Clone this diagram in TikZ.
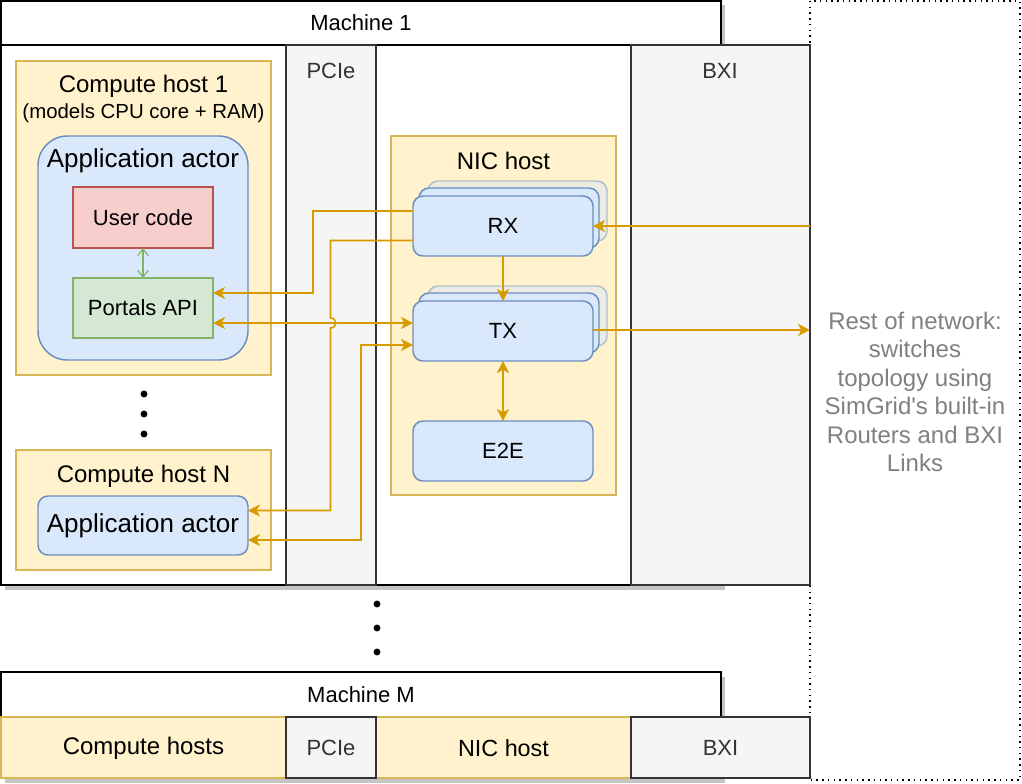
\documentclass[tikz,border=0pt]{standalone}
\usepackage{fontspec}
\setmainfont{Liberation Sans}
\usetikzlibrary{arrows.meta,calc}
\definecolor{yfill}{HTML}{FFF2CC}
\definecolor{ystroke}{HTML}{D6B656}
\definecolor{bfill}{HTML}{DAE8FC}
\definecolor{bstroke}{HTML}{6C8EBF}
\definecolor{rfill}{HTML}{F8CECC}
\definecolor{rstroke}{HTML}{B85450}
\definecolor{gfill}{HTML}{D5E8D4}
\definecolor{gstroke}{HTML}{82B366}
\definecolor{lanefill}{HTML}{F5F5F5}
\definecolor{lanestroke}{HTML}{333333}
\definecolor{conncol}{HTML}{D79B00}
\definecolor{shadowcol}{HTML}{C4C4C4}
\definecolor{restcol}{HTML}{808080}
\newcommand\boxat[7]{\node[#2,anchor=north west,outer sep=0pt,minimum width={(#5-(#3))*0.75pt},minimum height={(#6-(#4))*0.75pt}] (#1) at (#3,#4) {#7};}
\begin{document}
\begin{tikzpicture}[x=0.75pt,y=-0.75pt,
  tA/.style={font=\fontsize{16.5}{19.8}\selectfont},
  tB/.style={font=\fontsize{18}{21.4}\selectfont},
  tC/.style={font=\fontsize{15.3}{18}\selectfont},
  tD/.style={font=\fontsize{19.5}{23}\selectfont},
  frame/.style={draw=black,fill=white,line width=1.2pt,tA},
  lane/.style={draw=lanestroke,fill=lanefill,line width=1.2pt,text=lanestroke,tA},
  ybox/.style={draw=ystroke,fill=yfill,line width=1.1pt},
  bluebox/.style={draw=bstroke,fill=bfill,line width=1.1pt,rounded corners=7.5pt,tA},
  stackback/.style={bluebox,opacity=0.5},
  bluebig/.style={draw=bstroke,fill=bfill,line width=1.1pt,rounded corners=22pt},
  redbox/.style={draw=rstroke,fill=rfill,line width=1.1pt,tA},
  greenbox/.style={draw=gstroke,fill=gfill,line width=1.1pt,tA},
  conn/.style={draw=conncol,line width=1.2pt},
  dotmark/.style={circle,fill=black,inner sep=0pt,minimum size=5.2pt},
  >={Stealth[length=9pt,width=9pt,inset=2.5pt]}]
\useasboundingbox (0,0) rectangle (1022,783);
% shadows
\fill[shadowcol] (5,5) rectangle (725,590);
\fill[shadowcol] (5,677) rectangle (725,783);
% rest of network box
\draw[line width=1.1pt,dash pattern=on 1.1pt off 3.2pt] (810,1) rectangle (1020,780);
\node[tB,text=restcol,align=center] (rest) at (915,392) {Rest of network:\\switches\\topology using\\SimGrid\textquotesingle s built-in\\Routers and BXI\\Links};
% Machine 1
\boxat{m1}{frame}{1}{1}{721}{45}{Machine 1}
\boxat{m1body}{frame}{1}{45}{721}{585}{}
\boxat{pcie}{lane}{286}{45}{376}{585}{}
\boxat{bxi}{lane}{631}{45}{810}{585}{}
\node[tA,text=lanestroke] (pcielbl) at (331,71) {PCIe};
\node[tA,text=lanestroke] (bxilbl) at (720,71) {BXI};
% compute host 1
\boxat{ch1}{ybox}{16}{61}{271}{375}{}
\node[tB] (ch1lbl) at (143.5,86) {Compute host 1};
\node[tC] (ch1sub) at (143.5,113) {(models CPU core + RAM)};
\boxat{act1}{bluebig}{38}{136}{248}{360}{}
\node[tD] (act1lbl) at (143,161) {Application actor};
\boxat{user}{redbox}{73}{187}{213}{248}{User code}
\boxat{portals}{greenbox}{73}{278}{213}{338}{Portals API}
\draw[draw=gstroke,line width=0.9pt,{Straight Barb[length=5pt,width=8pt]}-{Straight Barb[length=5pt,width=8pt]}] (user.south) -- (portals.north);
\node[dotmark] (d1) at (144,394) {};
\node[dotmark] (d2) at (144,414) {};
\node[dotmark] (d3) at (144,434) {};
% compute host N
\boxat{chN}{ybox}{16}{450}{271}{570}{}
\node[tB] (chNlbl) at (143.5,476) {Compute host N};
\boxat{actN}{bluebox}{38}{496}{248}{555}{\fontsize{19.5}{23}\selectfont Application actor}
% NIC host
\boxat{nic}{ybox}{391}{136}{616}{495}{}
\node[tB] (niclbl) at (503.5,161) {NIC host};
\boxat{rxc}{stackback}{428}{181}{607}{241}{}
\boxat{rxb}{bluebox}{419}{188}{599}{248}{}
\boxat{rx}{bluebox}{413}{196}{593}{256}{RX}
\boxat{txc}{stackback}{428}{286}{607}{346}{}
\boxat{txb}{bluebox}{419}{293}{599}{353}{}
\boxat{tx}{bluebox}{413}{301}{593}{361}{TX}
\boxat{e2e}{bluebox}{413}{421}{593}{481}{E2E}
% connectors
\draw[conn,->] ([shift={(0,-15)}]rx.west) -- ++(-100,0) |- ([shift={(0,-15)}]portals.east);
\draw[conn,<->] ([shift={(0,15)}]portals.east) -- ([shift={(0,15)}]portals.east -| tx.west);
\draw[conn,->] ([shift={(0,14.5)}]rx.west) -- ++(-82.5,0) -- (330.5,318) .. controls (337.5,318) and (337.5,328) .. (330.5,328) |- ([shift={(0,-15)}]actN.east);
\draw[conn,<->] ([shift={(0,14.5)}]actN.east) -- ++(113,0) |- ([shift={(0,14)}]tx.west);
\draw[conn,->] (rx.south) -- (tx.north);
\draw[conn,->] (bxi.east |- rx.east) -- (rx.east);
\draw[conn,->] ([shift={(0,-1)}]tx.east) -- ([shift={(0,-1)}]bxi.east |- tx.east);
\draw[conn,<->] (tx.south) -- (e2e.north);
% dots between machines
\node[dotmark] (d4) at (377,604) {};
\node[dotmark] (d5) at (377,628) {};
\node[dotmark] (d6) at (377,652) {};
% Machine M
\boxat{mM}{frame}{1}{672}{721}{717}{Machine M}
\boxat{mMch}{ybox}{1}{717}{286}{778}{}
\boxat{mMnic}{ybox}{376}{717}{631}{778}{}
\boxat{mMpcie}{lane}{286}{717}{376}{778}{}
\boxat{mMbxi}{lane}{631}{717}{810}{778}{}
\node[tB] (mMchlbl) at (143.5,748) {Compute hosts};
\node[font=\fontsize{17.5}{21}\selectfont] (mMniclbl) at (503.5,748) {NIC host};
\node[tA,text=lanestroke] (mMpcielbl) at (331,748) {PCIe};
\node[tA,text=lanestroke] (mMbxilbl) at (720.5,748) {BXI};
\end{tikzpicture}
\end{document}
